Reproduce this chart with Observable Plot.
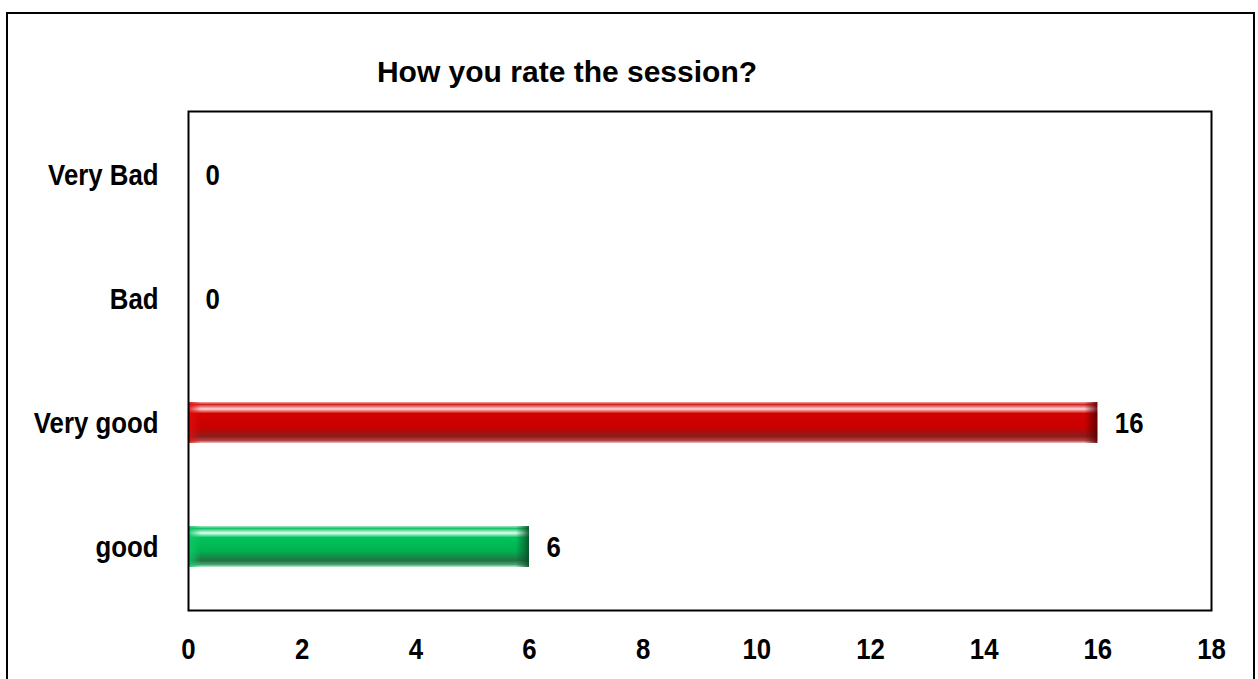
<!DOCTYPE html>
<html><head><meta charset="utf-8">
<script src="https://cdn.jsdelivr.net/npm/d3@7"></script>
<script src="https://cdn.jsdelivr.net/npm/@observablehq/plot@0.6"></script>
<style>
body{margin:0;background:#fff;}
#wrap{position:relative;width:1258px;height:679px;overflow:hidden;font-family:"Liberation Sans",Arial,sans-serif;}
#border{position:absolute;left:6px;top:12px;width:1249px;height:720px;border:2px solid #000;box-sizing:border-box;}
#title{position:absolute;left:0;width:1134px;top:57px;line-height:30px;text-align:center;font-weight:bold;font-size:30px;color:#000;}
#chart{position:absolute;left:0;top:0;}
</style>
</head><body>
<div id="wrap"><div id="border"></div><div id="chart"></div><div id="title">How you rate the session?</div></div>
<script>
const categories = ["Very Bad", "Bad", "Very good", "good"];
const values = [0, 0, 16, 6];
const xTicks = [0, 2, 4, 6, 8, 10, 12, 14, 16, 18];

const data = categories.map((c, i) => ({category: c, value: values[i], i}));
const barFill = {"Very good": "url(#gRed)", "good": "url(#gGreen)"};
const capDark = {"Very good": "#5a0000", "good": "#0a4a24"};
const capLight = {"Very good": "#e01010", "good": "#10c868"};
const font = '"Liberation Sans",Arial,sans-serif';

const chart = Plot.plot({
  width: 1258, height: 679,
  marginLeft: 188, marginRight: 47, marginTop: 111, marginBottom: 69,
  x: {domain: [0, 18], ticks: xTicks, label: null, tickSize: 0, tickPadding: 27},
  y: {domain: categories, paddingInner: 0.672, paddingOuter: 0.336, label: null, tickSize: 0, tickPadding: 30},
  color: {type: "identity"},
  style: {fontFamily: font, fontSize: "30px", fontWeight: "bold", color: "#000", background: "transparent", overflow: "visible"},
  marks: [
    Plot.barX(data, {x: "value", y: "category", fill: d => barFill[d.category] || "none"}),
    Plot.barX(data, {x: "value", y: "category", fill: d => d.value > 0 ? `url(#cap${d.i})` : "none"}),
    Plot.text(data, {x: "value", y: "category", text: d => String(d.value), textAnchor: "start", dx: 17, fill: "#000"}),
    Plot.frame({stroke: "#000", strokeWidth: 2})
  ]
});

const defs = d3.create("svg:defs");
function grad(id, stops) {
  const g = defs.append("linearGradient").attr("id", id).attr("x1", 0).attr("y1", 0).attr("x2", 0).attr("y2", 1);
  stops.forEach(([o, c, a]) => g.append("stop").attr("offset", o).attr("stop-color", c).attr("stop-opacity", a == null ? 1 : a));
}
grad("gRed", [[0, "#f2a8a8"], [0.06, "#d42424"], [0.17, "#ffd8d8"], [0.28, "#d40000"], [0.62, "#c80000"], [0.84, "#8c1c1c"], [0.94, "#b44444"], [1, "#f2c4c4"]]);
grad("gGreen", [[0, "#a4e8c4"], [0.06, "#14c264"], [0.17, "#e0fff4"], [0.28, "#00c45a"], [0.62, "#00b050"], [0.84, "#227242"], [0.94, "#44a472"], [1, "#c4f0d4"]]);

// end bevels, placed through the chart's own x scale
const xs = chart.scale("x");
data.forEach(d => {
  if (!(d.value > 0)) return;
  const a = xs.apply(0), b = xs.apply(d.value), w = b - a, c = 13 / w;
  const g = defs.append("linearGradient").attr("id", `cap${d.i}`).attr("gradientUnits", "userSpaceOnUse")
    .attr("x1", a).attr("y1", 0).attr("x2", b).attr("y2", 0);
  [[0, capLight[d.category], 0.9], [c, capLight[d.category], 0], [1 - c, capDark[d.category], 0], [1 - c * 0.35, capDark[d.category], 0.55], [1, capDark[d.category], 0.9]]
    .forEach(([o, col, op]) => g.append("stop").attr("offset", o).attr("stop-color", col).attr("stop-opacity", op));
});
chart.insertBefore(defs.node(), chart.firstChild);

// narrow (Arial Narrow–like) labels
chart.querySelectorAll("text").forEach(t => {
  const x = +(t.getAttribute("x") || 0);
  const tr = t.getAttribute("transform") || "";
  t.setAttribute("transform", `${tr} translate(${x},0) scale(0.86,1) translate(${-x},0)`.trim());
});
document.getElementById("chart").appendChild(chart);
</script>
</body></html>
